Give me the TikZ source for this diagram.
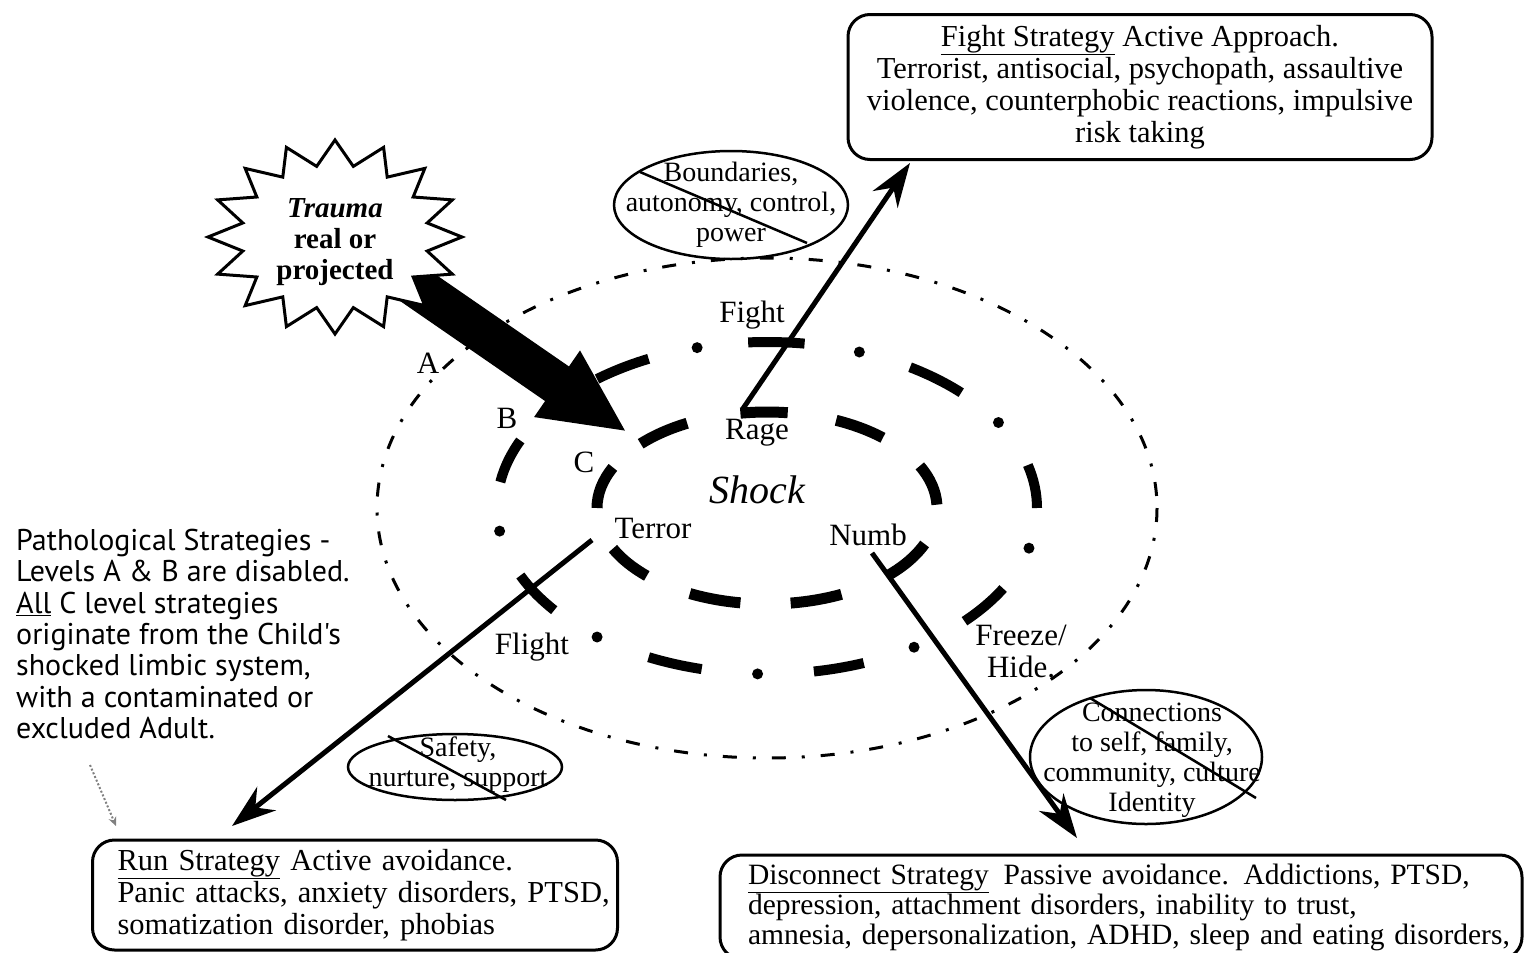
\documentclass[tikz,border=0pt]{standalone}
\usepackage{fontspec}
\setmainfont{Liberation Serif}
\newfontfamily\notefont{PT Sans}
\usetikzlibrary{arrows.meta}

\begin{document}
\begin{tikzpicture}[
        x=1pt, y=-1pt,
        every node/.style={inner sep=0pt},
        lbl/.style={font=\fontsize{31}{32}\selectfont},
        stratbox/.style={draw, line width=3pt, rounded corners=22pt,
            font=\fontsize{30.5}{32}\selectfont},
        ovaltext/.style={align=center, font=\fontsize{28}{30}\selectfont},
        oval/.style={line width=2.5pt},
        strat/.style={line width=5pt, -{Stealth[length=44pt,width=30pt]}},
        levelA/.style={line width=3pt,
            dash pattern=on 14pt off 16pt on 3pt off 16pt},
        levelB/.style={line width=10pt},
        levelC/.style={line width=11pt},
    ]
\useasboundingbox (0,0) rectangle (1526,953);
\coordinate (ctr) at (767,508);

% the three levels round the shock
\draw[levelA] (ctr) ellipse [x radius=390, y radius=250];
\foreach \s/\e in {189/204,231/244,266/278,302/316,345/360,389/403,429/440,464/476,502/516}
    \draw[levelB] (ctr) ++(\s:270 and 166)
        arc [start angle=\s, end angle=\e, x radius=270, y radius=166];
\foreach \t in {172,218,255,290,329,374,417,452,489}
    \fill (ctr) ++(\t:270 and 166) circle [radius=5.5pt];
\foreach \s/\e in {180/205,222/242,261/277,294/313,334/358,382/404,424/442,459/477,495/515}
    \draw[levelC] (ctr) ++(\s:170 and 96)
        arc [start angle=\s, end angle=\e, x radius=170, y radius=96];

\node[lbl] (alabel) at (428,363) {A};
\node[lbl] (blabel) at (507,418) {B};
\node[lbl] (clabel) at (584,462) {C};
\node[lbl] (fight) at (752,315) {Fight};
\node[lbl] (rage) at (757,433) {Rage};
\node[font=\itshape\fontsize{40}{40}\selectfont] (shock) at (757,490) {Shock};
\node[lbl] (terror) at (653,528) {Terror};
\node[lbl] (numb) at (868,535) {Numb};
\node[lbl] (flight) at (532,647) {Flight};
\node[lbl, align=center] (freeze) at (1021,651) {Freeze/\\Hide.};

% trauma
\coordinate (traumaout) at (395,272);
\coordinate (shocktip) at (627,432);
\draw[line width=42pt, -{Triangle[length=85pt,width=74pt]}] (traumaout) -- (shocktip);
\begin{scope}[shift={(335,237)}]
\draw[line width=3pt, fill=white] (90:127 and 97)
    \foreach \a in {90,112.5,...,427.5} { -- (\a+11.25:94 and 72) -- (\a+22.5:127 and 97) } -- cycle;
\end{scope}
\node[font=\bfseries\fontsize{29}{31}\selectfont, align=center] (trauma) at (335,242)
    {\textit{Trauma}\\real or\\projected};

% needs that are cut off
\node[ovaltext] (bounds) at (731,205) {Boundaries,\\autonomy, control,\\power};
\draw[oval] (bounds.center) ellipse [x radius=117, y radius=54];
\draw[oval] (640,172) -- (807,243);
\node[ovaltext] (safety) at (458,765) {Safety,\\nurture, support};
\draw[oval] (455,767) ellipse [x radius=107, y radius=33];
\draw[oval] (388,736) -- (506,800);
\node[ovaltext] (connect) at (1152,760) {Connections\\to self, family,\\community, culture\\Identity};
\draw[oval] (1146,757) ellipse [x radius=116, y radius=67];
\draw[oval] (1090,698) -- (1256,798);

% strategies
\node[stratbox, minimum width=584pt, minimum height=145pt, align=center] (fightbox) at (1140,87)
    {\underline{Fight Strategy} Active Approach.\\Terrorist, antisocial, psychopath, assaultive\\
     violence, counterphobic reactions, impulsive\\risk taking};
\node[stratbox, minimum width=520pt, minimum height=110pt, text width=475pt, inner xsep=25pt,
      align=left] (runbox) at (355,895)
    {\underline{Run Strategy} Active avoidance.\\\mbox{Panic attacks, anxiety disorders, PTSD,}\\
     somatization disorder, phobias};
\node[stratbox, minimum width=802pt, minimum height=104pt, text width=746pt, inner xsep=28pt,
      align=left, font=\fontsize{29.5}{30}\selectfont] (discbox) at (1121,907)
    {\mbox{\underline{Disconnect Strategy}\enspace Passive avoidance. Addictions, PTSD,}\\
     depression, attachment disorders, inability to trust,\\
     \mbox{amnesia, depersonalization, ADHD, sleep and eating disorders,}};

\coordinate (fighttail) at (742,410);
\coordinate (fighttip) at (910,163);
\coordinate (flighttail) at (592,540);
\coordinate (flighttip) at (232,826);
\coordinate (numbtail) at (872,553);
\coordinate (numbtip) at (1077,838);
\draw[strat] (fighttail) -- (fighttip);
\draw[strat] (flighttail) -- (flighttip);
\draw[strat] (numbtail) -- (numbtip);

% note
\node[anchor=north west, align=left, font=\notefont\fontsize{30}{31.3}\selectfont] (pathnote) at (16,529)
    {Pathological Strategies -\\Levels A \& B are disabled.\\\underline{All} C level strategies\\
     originate from the Child's\\shocked limbic system,\\with a contaminated or\\excluded Adult.};
\coordinate (notetail) at (90,765);
\coordinate (notetip) at (116,826);
\draw[gray, line width=2pt, dotted, -{Stealth[length=9pt,width=8pt]}] (notetail) -- (notetip);
\end{tikzpicture}
\end{document}
